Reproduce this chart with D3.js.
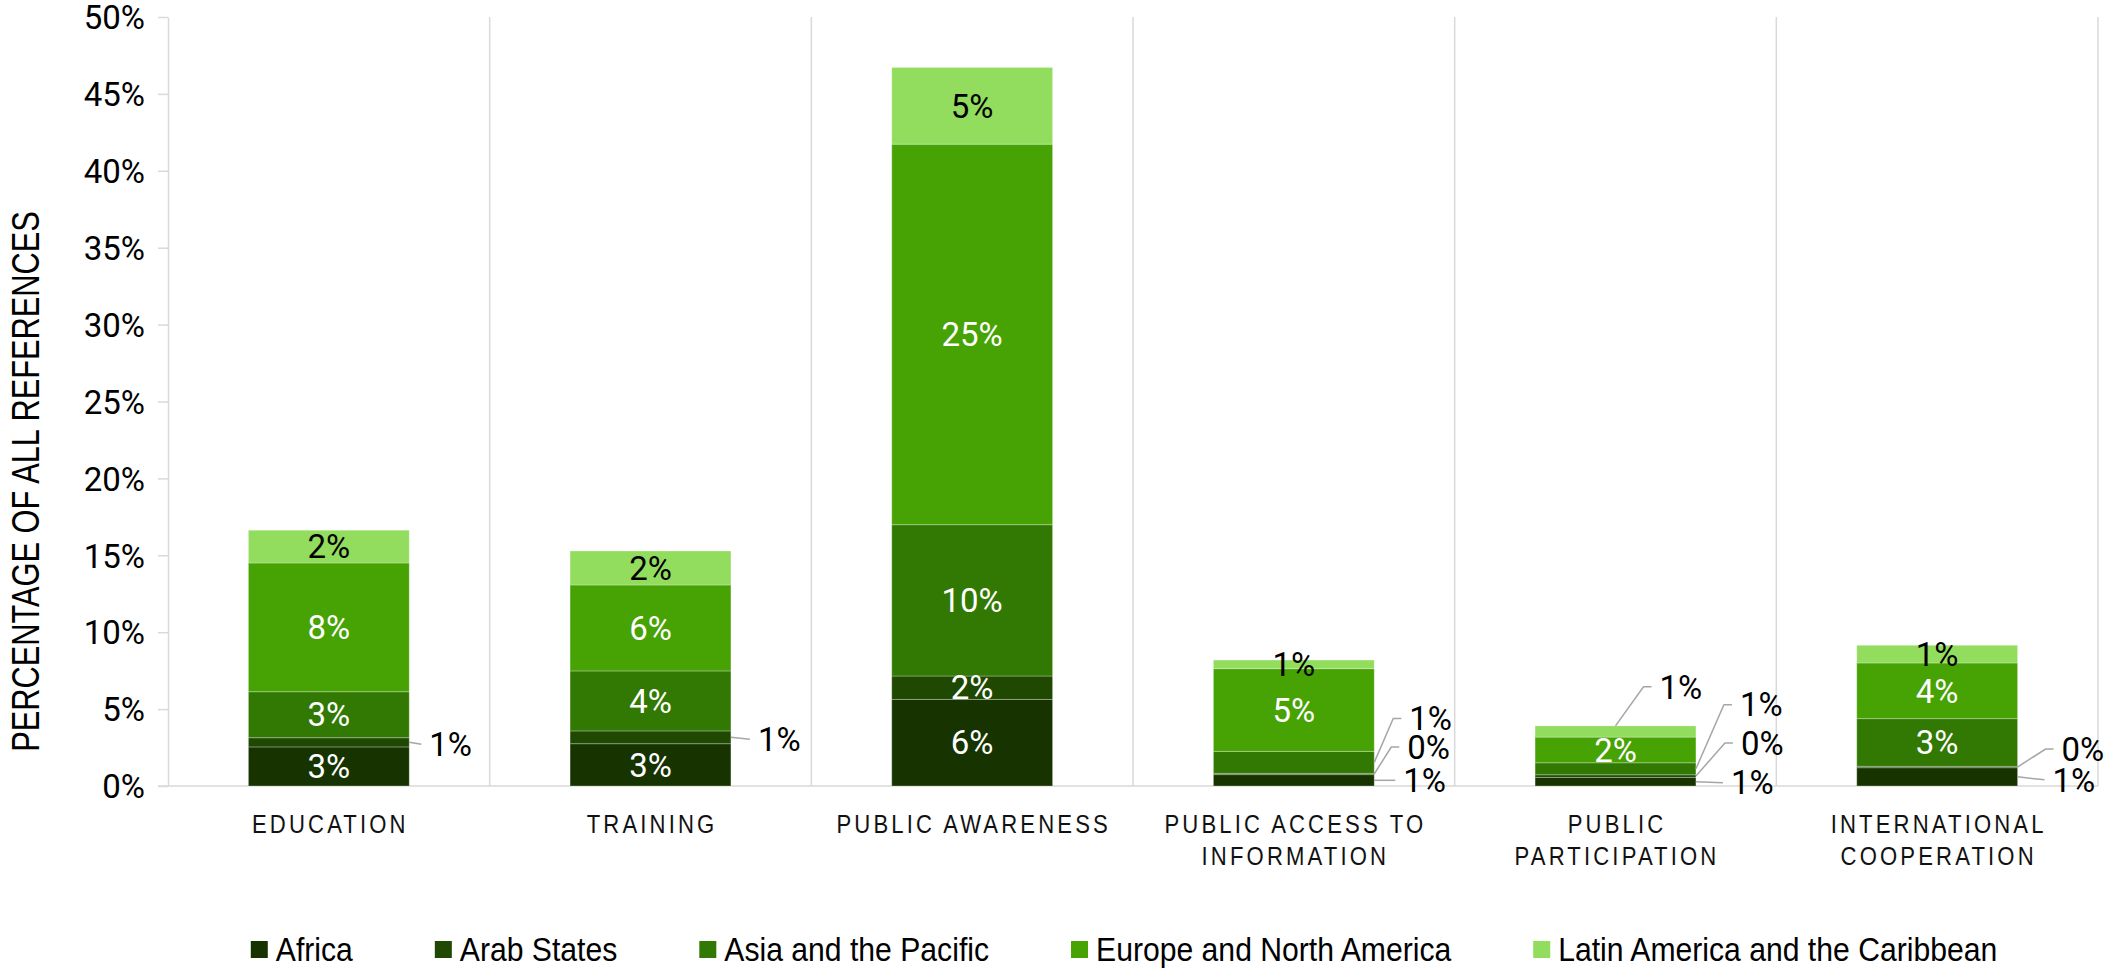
<!DOCTYPE html>
<html>
<head>
<meta charset="utf-8">
<script src="https://cdn.jsdelivr.net/npm/d3@7"></script>
<style>
  html, body { margin: 0; padding: 0; background: #ffffff; }
  svg { display: block; }
</style>
</head>
<body>
<script>
// Share of all references, by ACE element and UNESCO region (percent)
const categories = [
  "EDUCATION",
  "TRAINING",
  "PUBLIC AWARENESS",
  "PUBLIC ACCESS TO\nINFORMATION",
  "PUBLIC\nPARTICIPATION",
  "INTERNATIONAL\nCOOPERATION"
];
const seriesNames = [
  "Africa",
  "Arab States",
  "Asia and the Pacific",
  "Europe and North America",
  "Latin America and the Caribbean"
];
const africa = [2.54, 2.75, 5.63, 0.74, 0.56, 1.19];
const arabStates = [0.60, 0.83, 1.52, 0.08, 0.17, 0.09];
const asiaPacific = [2.99, 3.90, 9.84, 1.43, 0.78, 3.10];
const europeNorthAmerica = [8.37, 5.59, 24.74, 5.38, 1.67, 3.62];
const latinAmericaCaribbean = [2.13, 2.21, 4.99, 0.56, 0.73, 1.15];
const yTicks = [0, 5, 10, 15, 20, 25, 30, 35, 40, 45, 50];
const yTitle = "PERCENTAGE OF ALL REFERENCES";

const seriesValues = [africa, arabStates, asiaPacific, europeNorthAmerica, latinAmericaCaribbean];
const colors = ["#163300", "#1f4800", "#327903", "#47a204", "#92dc5e"];
const labelColors = ["#ffffff", "#ffffff", "#ffffff", "#ffffff", "#000000"];

// Small segments get their label outside the bar with a leader line.
// anchor: "right" = right edge of the bar at the segment middle, "top" = top centre of the segment.
// dx = offset of the label's left edge, dy = offset of the label's middle.
const callouts = [
  { cat: 0, s: 1, at: "right", dx: 20, dy: 2 },
  { cat: 1, s: 1, at: "right", dx: 27, dy: 2 },
  { cat: 3, s: 2, at: "right", dx: 35, dy: -44 },
  { cat: 3, s: 1, at: "right", dx: 33, dy: -27 },
  { cat: 3, s: 0, at: "right", dx: 29, dy: 0 },
  { cat: 4, s: 4, at: "top", dx: 44, dy: -39 },
  { cat: 4, s: 2, at: "right", dx: 44, dy: -64 },
  { cat: 4, s: 1, at: "right", dx: 45, dy: -33 },
  { cat: 4, s: 0, at: "right", dx: 35, dy: 1 },
  { cat: 5, s: 1, at: "right", dx: 44, dy: -18 },
  { cat: 5, s: 0, at: "right", dx: 35, dy: 3 }
];

const W = 2106, H = 968;
const plot = { left: 168, right: 2098, top: 17, bottom: 786 };
const gridColor = "#d9d9d9";
const numFont = "Roboto, 'Liberation Sans', sans-serif";
const textFont = "'Liberation Sans', Arial, sans-serif";

const svg = d3.select("body").append("svg")
  .attr("width", W).attr("height", H)
  .attr("viewBox", `0 0 ${W} ${H}`);

const x = d3.scaleBand()
  .domain(categories)
  .range([plot.left, plot.right])
  .paddingInner(0.5)
  .paddingOuter(0.25);
const y = d3.scaleLinear().domain([0, 50]).range([plot.bottom, plot.top]);

// Rows for the stack
const rows = categories.map((c, i) => {
  const r = { category: c };
  seriesNames.forEach((s, k) => { r[s] = seriesValues[k][i]; });
  return r;
});
const stacked = d3.stack().keys(seriesNames)(rows);

// Vertical separators between categories
const step = x.step();
const boundaries = d3.range(1, categories.length + 1).map(i => plot.left + i * step);
svg.append("g").selectAll("line").data(boundaries).join("line")
  .attr("x1", d => d).attr("x2", d => d)
  .attr("y1", plot.top).attr("y2", plot.bottom)
  .attr("stroke", gridColor).attr("stroke-width", 1.5);

// Y axis
const yAxis = svg.append("g")
  .attr("transform", `translate(${plot.left},0)`)
  .call(d3.axisLeft(y).tickValues(yTicks).tickFormat(d => d + "%")
    .tickSize(10).tickSizeOuter(0).tickPadding(13));
yAxis.select(".domain").attr("stroke", gridColor).attr("stroke-width", 1.5);
yAxis.selectAll(".tick line").attr("stroke", gridColor).attr("stroke-width", 1.5);
yAxis.selectAll(".tick text")
  .attr("font-family", numFont).attr("font-size", 33).attr("fill", "#000")
  .attr("dy", "0.355em");

// Baseline
svg.append("line")
  .attr("x1", plot.left - 10).attr("x2", plot.right)
  .attr("y1", y(0)).attr("y2", y(0))
  .attr("stroke", gridColor).attr("stroke-width", 1.5);

// Bars
const layers = svg.append("g").selectAll("g").data(stacked).join("g")
  .attr("fill", (d, i) => colors[i]);
layers.selectAll("rect").data(d => d).join("rect")
  .attr("x", d => x(d.data.category))
  .attr("width", x.bandwidth())
  .attr("y", d => y(d[1]))
  .attr("height", d => y(d[0]) - y(d[1]))
  .attr("stroke", "rgba(255,255,255,0.28)")
  .attr("stroke-width", 1);

// Value labels
const fmt = v => Math.round(v) + "%";
const outside = new Set(callouts.map(c => c.cat + ":" + c.s));
const labelG = svg.append("g")
  .attr("font-family", numFont).attr("font-size", 33);

stacked.forEach((layer, s) => {
  layer.forEach((d, i) => {
    if (outside.has(i + ":" + s)) return;
    labelG.append("text")
      .attr("x", x(d.data.category) + x.bandwidth() / 2)
      .attr("y", (y(d[0]) + y(d[1])) / 2)
      .attr("dy", "0.355em")
      .attr("text-anchor", "middle")
      .attr("fill", labelColors[s])
      .text(fmt(seriesValues[s][i]));
  });
});

const leaderG = svg.append("g")
  .attr("fill", "none").attr("stroke", "#a6a6a6").attr("stroke-width", 1.5);
callouts.forEach(c => {
  const d = stacked[c.s][c.cat];
  const x0 = x(d.data.category);
  let ax, ay;
  if (c.at === "top") {
    ax = x0 + x.bandwidth() / 2;
    ay = y(d[1]);
  } else {
    ax = x0 + x.bandwidth();
    ay = (y(d[0]) + y(d[1])) / 2;
  }
  const lx = ax + c.dx, ly = ay + c.dy;
  const pts = Math.abs(c.dy) > 6
    ? [[ax, ay], [lx - 16, ly], [lx - 8, ly]]
    : [[ax, ay], [lx - 8, ly]];
  leaderG.append("path").attr("d", d3.line()(pts));
  labelG.append("text")
    .attr("x", lx).attr("y", ly).attr("dy", "0.355em")
    .attr("fill", "#000")
    .text(fmt(seriesValues[c.s][c.cat]));
});

// Horizontally condensed text helper
function condensed(parent, tx, ty, str, o) {
  const g = parent.append("g")
    .attr("transform", `translate(${tx},${ty})${o.rotate ? " rotate(" + o.rotate + ")" : ""} scale(${o.sx},1)`);
  const t = g.append("text")
    .attr("font-family", textFont)
    .attr("font-size", o.size)
    .attr("letter-spacing", o.ls || 0)
    .attr("text-anchor", o.anchor || "start")
    .attr("fill", o.fill || "#000")
    .attr("y", o.dy || 0)
    .text(str);
  return { g, t };
}

// Category labels
const catG = svg.append("g");
categories.forEach(c => {
  const cx = x(c) + x.bandwidth() / 2;
  c.split("\n").forEach((line, li) => {
    condensed(catG, cx + 1.5, 833 + li * 32, line,
      { sx: 0.85, size: 26, ls: 3.7, anchor: "middle", fill: "#111" });
  });
});

// Y axis title
condensed(svg, 24.5, (plot.top + plot.bottom) / 2 + 80, yTitle,
  { rotate: -90, sx: 0.79, size: 39, anchor: "middle", dy: 14 });

// Legend
const legendG = svg.append("g");
const lgSx = 0.9, lgSize = 33.5, sq = 17, textOffset = 25, itemGap = 82, lgBase = 961;
const items = seriesNames.map((name, i) => {
  const it = condensed(legendG, 0, lgBase, name, { sx: lgSx, size: lgSize });
  const w = it.t.node().getComputedTextLength() * lgSx;
  return { it, w, i };
});
const total = d3.sum(items, d => textOffset + d.w) + itemGap * (items.length - 1);
let lx = 1124 - total / 2;
items.forEach(d => {
  legendG.append("rect")
    .attr("x", lx).attr("y", 941).attr("width", sq).attr("height", sq)
    .attr("fill", colors[d.i]);
  d.it.g.attr("transform", `translate(${lx + textOffset},${lgBase}) scale(${lgSx},1)`);
  lx += textOffset + d.w + itemGap;
});
</script>
</body>
</html>
